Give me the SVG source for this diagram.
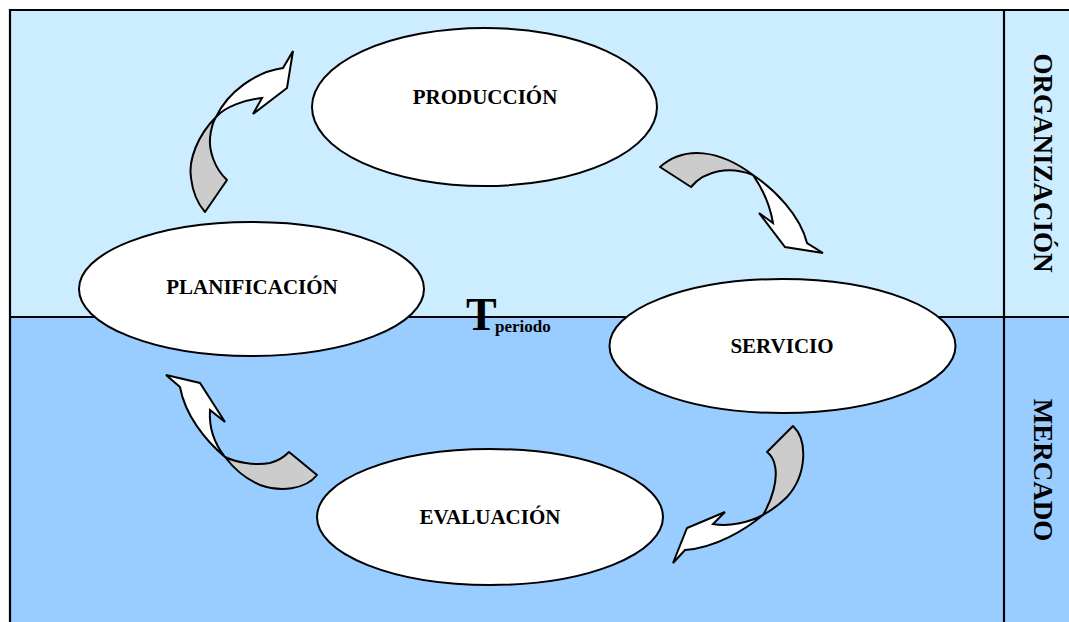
<svg xmlns="http://www.w3.org/2000/svg" width="1069" height="622" viewBox="0 0 1069 622">
  <style>
    .frame { fill: none; stroke: #000; stroke-width: 2.2; }
    .ell { fill: #fff; stroke: #000; stroke-width: 2; }
    .lbl { font-family: "Liberation Serif", "Times New Roman", serif; font-weight: bold; font-size: 21px; fill: #000; text-anchor: middle; }
    .side { font-family: "Liberation Serif", "Times New Roman", serif; font-weight: bold; font-size: 27px; fill: #000; text-anchor: middle; }
    .back { fill: #cccccc; stroke: #000; stroke-width: 2; stroke-linejoin: round; }
    .front { fill: #ffffff; stroke: #000; stroke-width: 2; stroke-linejoin: miter; }
  </style>

  <!-- two bands: organisation (top) and market (bottom) -->
  <g id="bands">
    <rect x="10" y="10" width="1070" height="307" fill="#CCECFF"/>
    <rect x="10" y="317" width="1070" height="320" fill="#99CCFF"/>
    <path class="frame" d="M10,640 V10 H1080"/>
    <line class="frame" x1="10" y1="317" x2="1080" y2="317"/>
    <line class="frame" x1="1004" y1="10" x2="1004" y2="640"/>
  </g>

  <g id="side-labels">
    <text class="side" transform="translate(1034,163) rotate(90)">ORGANIZACIÓN</text>
    <text class="side" transform="translate(1034,470) rotate(90)">MERCADO</text>
  </g>

  <g id="node-produccion">
    <ellipse class="ell" cx="484.5" cy="107" rx="172.5" ry="79"/>
    <text class="lbl" x="485" y="104">PRODUCCIÓN</text>
  </g>
  <g id="node-servicio">
    <ellipse class="ell" cx="782.5" cy="346" rx="173" ry="67"/>
    <text class="lbl" x="782" y="353">SERVICIO</text>
  </g>
  <g id="node-evaluacion">
    <ellipse class="ell" cx="490" cy="517" rx="173" ry="68"/>
    <text class="lbl" x="490" y="524">EVALUACIÓN</text>
  </g>
  <g id="node-planificacion">
    <ellipse class="ell" cx="251.5" cy="289" rx="172.5" ry="67"/>
    <text class="lbl" x="252" y="294">PLANIFICACIÓN</text>
  </g>

  <g id="period-label" font-family="'Liberation Serif', 'Times New Roman', serif" font-weight="bold" fill="#000">
    <text x="466" y="330" font-size="46">T</text>
    <text x="495" y="332" font-size="17">periodo</text>
  </g>

  <!-- curved ribbon arrows between the stages -->
  <g id="connectors">
    <!-- planificación -> producción -->
    <path class="back" d="M216,117 C198,135 188,160 191,178 C193,195 198,204 205,212 L227,180 C214,168 209,150 210,138 C211,128 213,122 216,117 Z"/>
    <path class="front" d="M216,117 C228,92 255,72 283,68 L293,51 L287,88 L253,114 L262,98 C245,100 226,106 216,117 Z"/>

    <!-- producción -> servicio -->
    <path class="back" d="M660,167 C685,145 720,150 753,175 C730,166 705,170 691,187 Z"/>
    <path class="front" d="M753,175 C775,190 800,215 807,243 L823,253 L785,247 L759,213 L773,223 C770,205 762,188 753,175 Z"/>

    <!-- servicio -> evaluación -->
    <path class="back" d="M793,426 C808,440 807,475 787,497 C780,504 772,510 763,515 C772,500 778,480 775,466 C774,460 771,455 767,452 Z"/>
    <path class="front" d="M763,515 C745,530 715,548 685,550 L673,563 L687,528 L725,512 L713,524 C730,527 750,522 763,515 Z"/>

    <!-- evaluación -> planificación -->
    <path class="back" d="M317,475 C305,490 280,492 260,485 C248,480 235,470 225,457 C235,462 255,466 270,463 C278,461 284,457 289,452 Z"/>
    <path class="front" d="M225,457 C205,440 185,415 180,387 L166,375 L200,383 L225,422 L210,410 C209,425 213,442 225,457 Z"/>
  </g>
</svg>
